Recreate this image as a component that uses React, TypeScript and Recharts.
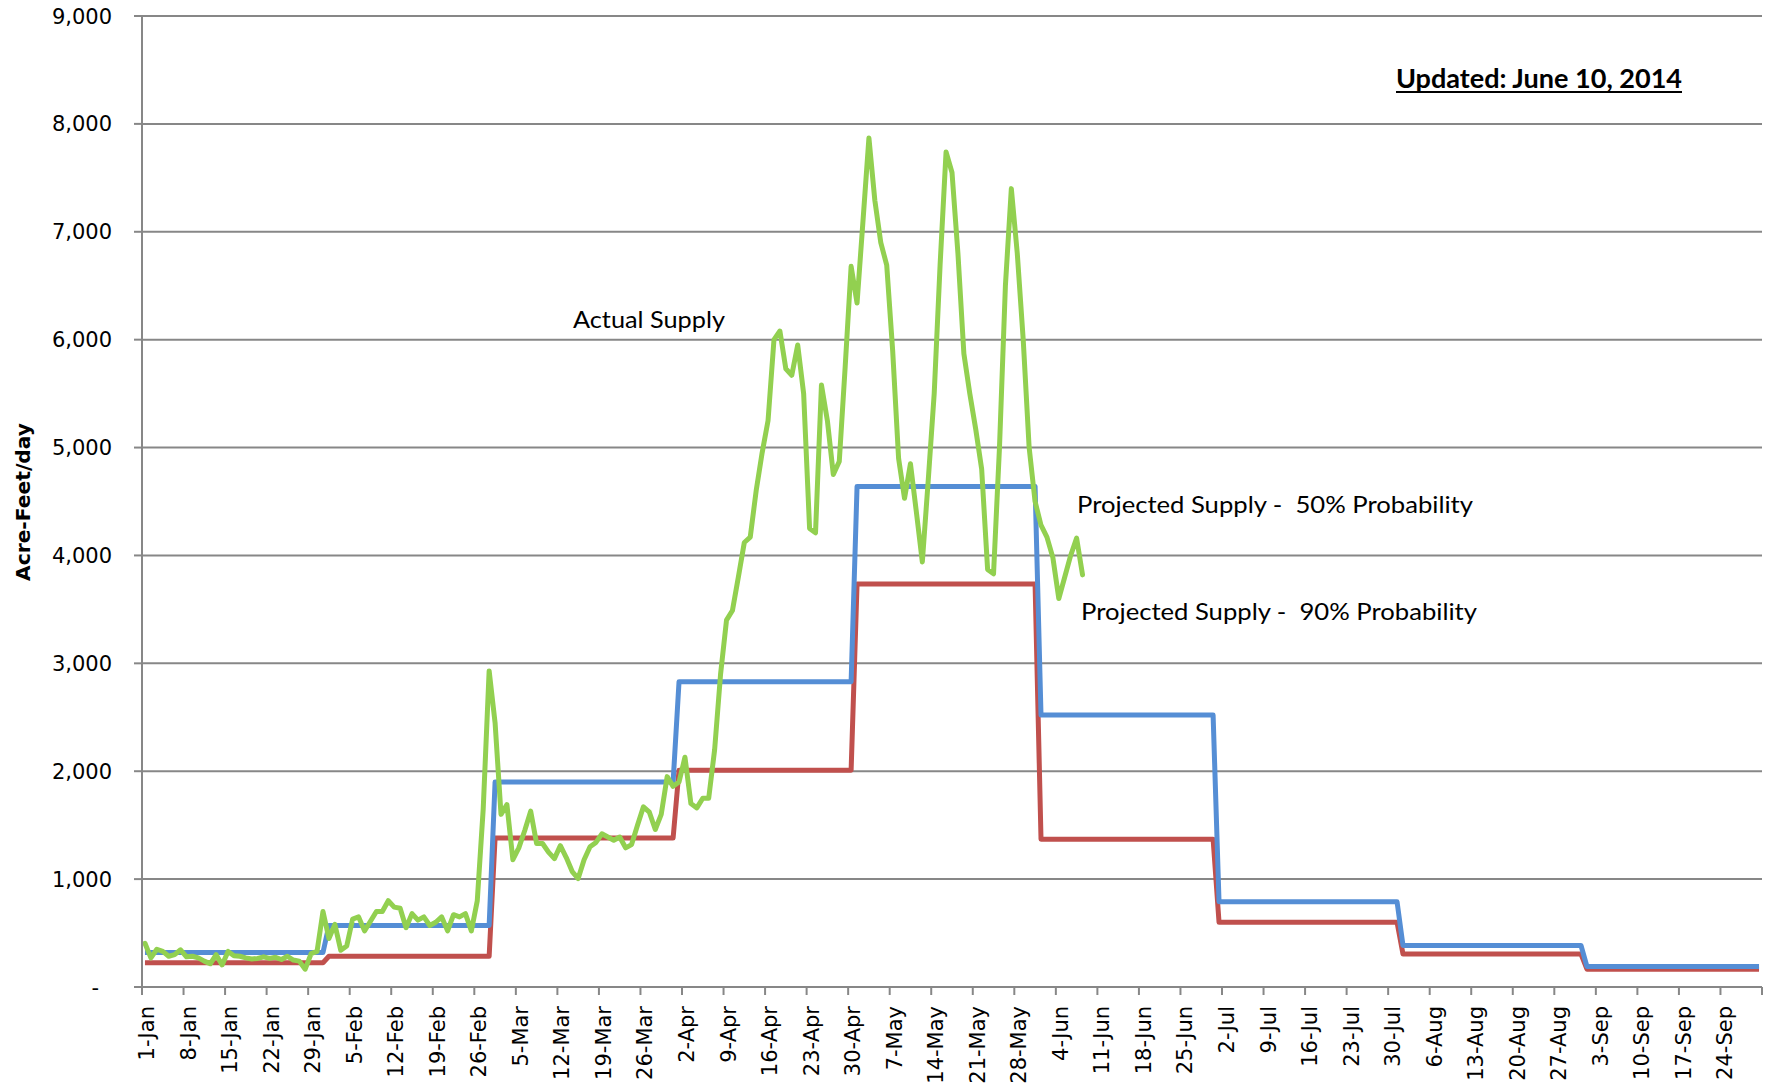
import React from 'react';
import { LineChart, Line, XAxis, YAxis, CartesianGrid } from 'recharts';

// days per month, Jan..Sep 2014
const monthDays = [31, 28, 31, 30, 31, 30, 31, 31, 30];

// monthly projections (acre-feet/day)
const projected50 = [320, 570, 1900, 2830, 4640, 2520, 790, 385, 190];
const projected90 = [225, 285, 1380, 2010, 3735, 1370, 600, 306, 165];

// daily actual supply, 1-Jan .. 8-Jun
const actualSupply = [
  405, 270, 350, 330, 285, 300, 345, 280, 285, 270, 240, 215, 300, 205, 330, 290,
  285, 270, 260, 265, 280, 265, 275, 255, 285, 250, 240, 165, 310, 330, 700,
  450, 580, 340, 380, 630, 650, 520, 610, 700, 700, 800, 740, 730, 550, 680, 620,
  650, 570, 600, 650, 520, 670, 650, 680, 520, 800, 1650, 2930,
  2450, 1600, 1690, 1180, 1290, 1450, 1630, 1330, 1330, 1250, 1190, 1310, 1200, 1070,
  1005, 1180, 1300, 1340, 1420, 1390, 1360, 1390, 1290, 1320, 1500, 1670, 1620, 1460,
  1600, 1950, 1860,
  1900, 2130, 1700, 1660, 1750, 1750, 2200, 2900, 3400, 3490, 3800, 4120, 4170, 4600,
  4950, 5250, 6000, 6080, 5730, 5670, 5950, 5500, 4250, 4210, 5580, 5250, 4750, 4870,
  5750, 6680,
  6340, 7100, 7870, 7290, 6900, 6690, 5900, 4900, 4530, 4850, 4400, 3940, 4700, 5500,
  6700, 7740, 7550, 6800, 5870, 5500, 5170, 4800, 3870, 3830, 5000, 6500, 7400, 6800,
  6000, 5000, 4500,
  4280, 4170, 3980, 3600, 3800, 4000, 4160, 3820,
];

const tickLabels = [
  '1-Jan', '8-Jan', '15-Jan', '22-Jan', '29-Jan', '5-Feb', '12-Feb', '19-Feb', '26-Feb',
  '5-Mar', '12-Mar', '19-Mar', '26-Mar', '2-Apr', '9-Apr', '16-Apr', '23-Apr', '30-Apr',
  '7-May', '14-May', '21-May', '28-May', '4-Jun', '11-Jun', '18-Jun', '25-Jun', '2-Jul',
  '9-Jul', '16-Jul', '23-Jul', '30-Jul', '6-Aug', '13-Aug', '20-Aug', '27-Aug', '3-Sep',
  '10-Sep', '17-Sep', '24-Sep',
];

const yTicks = [0, 1000, 2000, 3000, 4000, 5000, 6000, 7000, 8000, 9000];

const totalDays = monthDays.reduce((a, b) => a + b, 0);

const data: { x: number; actual: number | null; p50: number; p90: number }[] = [];
monthDays.forEach((n, m) => {
  for (let d = 0; d < n; d++) {
    const i = data.length;
    data.push({
      x: i + 0.5,
      actual: i < actualSupply.length ? actualSupply[i] : null,
      p50: projected50[m],
      p90: projected90[m],
    });
  }
});

const xTicks = [...tickLabels.map((_, k) => k * 7), totalDays];

const GRID = '#878787';

const XTick = (props: any) => {
  const { x, y, payload } = props;
  const label = tickLabels[Math.round(payload.value / 7)];
  if (!label || payload.value === totalDays) return null;
  return (
    <text
      transform={`translate(${x + 12},${y + 9}) rotate(-90)`}
      textAnchor="end"
      fontFamily="DejaVu Sans"
      fontSize={21}
      fill="#000"
    >
      {label}
    </text>
  );
};

const YTick = (props: any) => {
  const { y, payload } = props;
  const zero = payload.value === 0;
  return (
    <text
      x={zero ? 99 : 112}
      y={y}
      dy="0.36em"
      textAnchor="end"
      fontFamily="DejaVu Sans"
      fontSize={21}
      fill="#000"
    >
      {zero ? '-' : payload.value.toLocaleString('en-US')}
    </text>
  );
};

export default function App() {
  return (
    <div style={{ position: 'absolute', left: 0, top: 0, width: 1769, height: 1088, background: '#fff' }}>
      <LineChart
        width={1769}
        height={1088}
        data={data}
        margin={{ top: 16, right: 7, bottom: 0, left: 0 }}
      >
        <CartesianGrid vertical={false} stroke={GRID} strokeWidth={2} />
        <XAxis
          dataKey="x"
          type="number"
          domain={[0, totalDays]}
          ticks={xTicks}
          interval={0}
          height={101}
          tickSize={8}
          tick={<XTick />}
          axisLine={{ stroke: GRID, strokeWidth: 2 }}
          tickLine={{ stroke: GRID, strokeWidth: 2 }}
        />
        <YAxis
          type="number"
          domain={[0, 9000]}
          ticks={yTicks}
          interval={0}
          width={142}
          tickSize={8}
          tick={<YTick />}
          axisLine={{ stroke: GRID, strokeWidth: 2 }}
          tickLine={{ stroke: GRID, strokeWidth: 2 }}
        />
        <Line
          type="linear"
          dataKey="p90"
          stroke="#C0504D"
          strokeWidth={5}
          dot={false}
          activeDot={false}
          isAnimationActive={false}
          strokeLinejoin="round"
        />
        <Line
          type="linear"
          dataKey="p50"
          stroke="#558ED5"
          strokeWidth={5}
          dot={false}
          activeDot={false}
          isAnimationActive={false}
          strokeLinejoin="round"
        />
        <Line
          type="linear"
          dataKey="actual"
          stroke="#92D050"
          strokeWidth={5}
          dot={false}
          activeDot={false}
          isAnimationActive={false}
          strokeLinejoin="round"
          strokeLinecap="round"
        />
      </LineChart>
      <svg
        width={1769}
        height={1088}
        style={{ position: 'absolute', left: 0, top: 0, pointerEvents: 'none' }}
      >
        <text
          transform="translate(30,502) rotate(-90)"
          textAnchor="middle"
          fontFamily="DejaVu Sans"
          fontWeight="bold"
          fontSize={20}
          textLength={158}
          lengthAdjust="spacingAndGlyphs"
        >
          Acre-Feet/day
        </text>
        <text x={573} y={328} fontFamily="Lato" fontSize={24} textLength={152} lengthAdjust="spacingAndGlyphs">
          Actual Supply
        </text>
        <text x={1077} y={513} fontFamily="Lato" fontSize={24} textLength={396} lengthAdjust="spacingAndGlyphs" xmlSpace="preserve">
          Projected Supply -  50% Probability
        </text>
        <text x={1081} y={620} fontFamily="Lato" fontSize={24} textLength={396} lengthAdjust="spacingAndGlyphs" xmlSpace="preserve">
          Projected Supply -  90% Probability
        </text>
        <text x={1396} y={88} fontFamily="Lato" fontWeight="bold" fontSize={26} textLength={286} lengthAdjust="spacingAndGlyphs">
          Updated: June 10, 2014
        </text>
        <line x1={1396} x2={1682} y1={92} y2={92} stroke="#000" strokeWidth={2} />
      </svg>
    </div>
  );
}
